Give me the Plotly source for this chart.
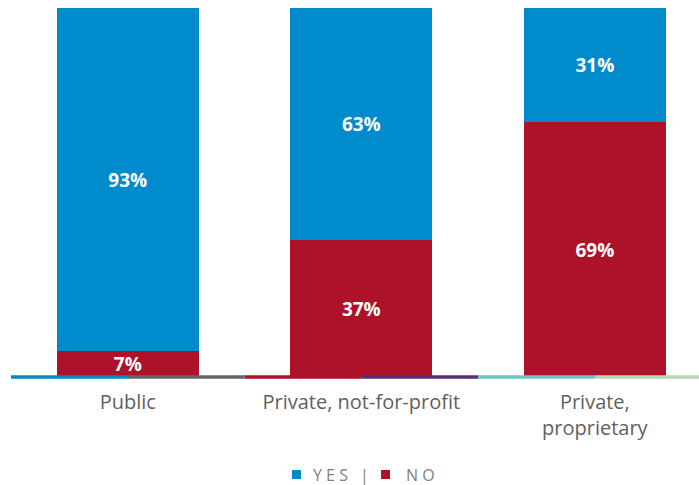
import plotly.graph_objects as go

categories = ["Public", "Private, not-for-profit", "Private,<br>proprietary"]
yes_vals = [93, 63, 31]
no_vals = [7, 37, 69]
series_names = ["YES", "NO"]
legend_labels = ["Y E S", "N O"]
baseline_colors = ["#0088CC", "#636466", "#AE1128", "#5A2D78", "#6CC4C6", "#B7D9B5"]

BLUE = "#008BCD"
RED = "#AE1228"
FONT = "Open Sans"
LEG_COLOR = "#7F7F7F"

fig = go.Figure()
fig.add_trace(go.Bar(x=categories, y=no_vals, name=series_names[1], marker_color=RED,
                     marker_line_width=0, text=[f"{v}%" for v in no_vals],
                     textposition="inside", insidetextanchor="middle", constraintext="none",
                     textfont=dict(color="white", size=19, family=FONT, weight="bold"),
                     showlegend=False))
fig.add_trace(go.Bar(x=categories, y=yes_vals, name=series_names[0], marker_color=BLUE,
                     marker_line_width=0, text=[f"{v}%" for v in yes_vals],
                     textposition="inside", insidetextanchor="middle", constraintext="none",
                     textfont=dict(color="white", size=19, family=FONT, weight="bold"),
                     showlegend=False))

shapes = []
for i, c in enumerate(baseline_colors):
    shapes.append(dict(type="line", xref="x", yref="paper", x0=-0.5 + 0.5 * i, x1=0.5 * i,
                       y0=0, y1=0, line=dict(color=c, width=3.5), layer="above"))
# legend swatches
for x0, col in [(0.4084, BLUE), (0.5378, RED)]:
    shapes.append(dict(type="rect", xref="paper", yref="paper", x0=x0, x1=x0 + 0.0131,
                       y0=-0.2764, y1=-0.252, fillcolor=col, line=dict(width=0)))

ann_font = dict(size=16, color=LEG_COLOR, family=FONT)
annotations = [
    dict(xref="paper", yref="paper", x=0.4637, y=-0.2656, xanchor="center", yanchor="middle",
         showarrow=False, text=legend_labels[0], font=ann_font),
    dict(xref="paper", yref="paper", x=0.5131, y=-0.2656, xanchor="center", yanchor="middle",
         showarrow=False, text="|", font=ann_font),
    dict(xref="paper", yref="paper", x=0.5945, y=-0.2656, xanchor="center", yanchor="middle",
         showarrow=False, text=legend_labels[1], font=ann_font),
]

fig.update_layout(
    width=699, height=485,
    margin=dict(l=11, r=0, t=8, b=108),
    barmode="stack", bargap=0.392,
    plot_bgcolor="white", paper_bgcolor="white",
    shapes=shapes,
    hovermode=False,
    xaxis=dict(range=[-0.5, 2.446], showgrid=False, zeroline=False, showline=False,
               ticks="outside", ticklen=7, tickcolor="rgba(0,0,0,0)",
               tickfont=dict(size=20, color="#5F5F5F", family=FONT)),
    yaxis=dict(range=[0, 100], visible=False),
    annotations=annotations,
)

fig.write_html("out.html", config={"displayModeBar": False},
               post_script="document.body.style.margin='0';")
